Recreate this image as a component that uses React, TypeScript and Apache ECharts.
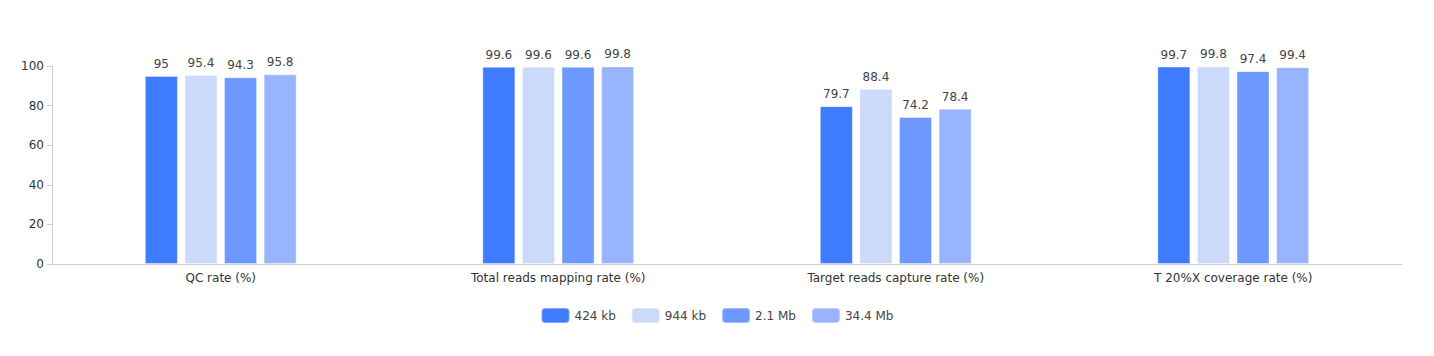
import React, { useEffect, useRef } from "react";
import * as echarts from "echarts";

const categories = [
  "QC rate (%)",
  "Total reads mapping rate (%)",
  "Target reads capture rate (%)",
  "T 20%X coverage rate (%)",
];
const seriesNames = ["424 kb", "944 kb", "2.1 Mb", "34.4 Mb"];
const values424kb = [95, 99.6, 79.7, 99.7];
const values944kb = [95.4, 99.6, 88.4, 99.8];
const values2_1Mb = [94.3, 99.6, 74.2, 97.4];
const values34_4Mb = [95.8, 99.8, 78.4, 99.4];
const colors = ["#3f7bfd", "#cbdafa", "#6d98fd", "#97b4fd"];

export default function App() {
  const ref = useRef<HTMLDivElement>(null);
  useEffect(() => {
    if (!ref.current) return;
    const chart = echarts.init(ref.current, undefined, { renderer: "svg" });
    const allValues = [values424kb, values944kb, values2_1Mb, values34_4Mb];
    chart.setOption({
      animation: false,
      textStyle: { fontFamily: "'DejaVu Sans', sans-serif" },
      grid: { left: 44, right: 24, top: 58, bottom: 84 },
      legend: {
        data: seriesNames,
        bottom: 19,
        left: "center",
        itemWidth: 28,
        itemHeight: 15,
        itemGap: 15,
        textStyle: { fontSize: 12, color: "#444" },
      },
      xAxis: {
        type: "category",
        data: categories,
        axisTick: { show: false },
        axisLine: { lineStyle: { color: "#ccc" } },
        axisLabel: { color: "#333", fontSize: 12, margin: 8 },
      },
      yAxis: {
        type: "value",
        min: 0,
        max: 100,
        interval: 20,
        splitLine: { show: false },
        axisLine: { show: true, lineStyle: { color: "#ccc" } },
        axisTick: { show: true, lineStyle: { color: "#ccc" } },
        axisLabel: { color: "#333", fontSize: 12 },
      },
      series: seriesNames.map((name, i) => ({
        name,
        type: "bar",
        data: allValues[i],
        barWidth: 33,
        barGap: "20%",
        itemStyle: { color: colors[i], borderColor: "rgba(255,255,255,0.35)", borderWidth: 1 },
        label: { show: true, position: "top", color: "#444", fontSize: 12, distance: 6 },
      })),
    });
    return () => chart.dispose();
  }, []);
  return <div ref={ref} style={{ width: 1418, height: 340 }} />;
}
